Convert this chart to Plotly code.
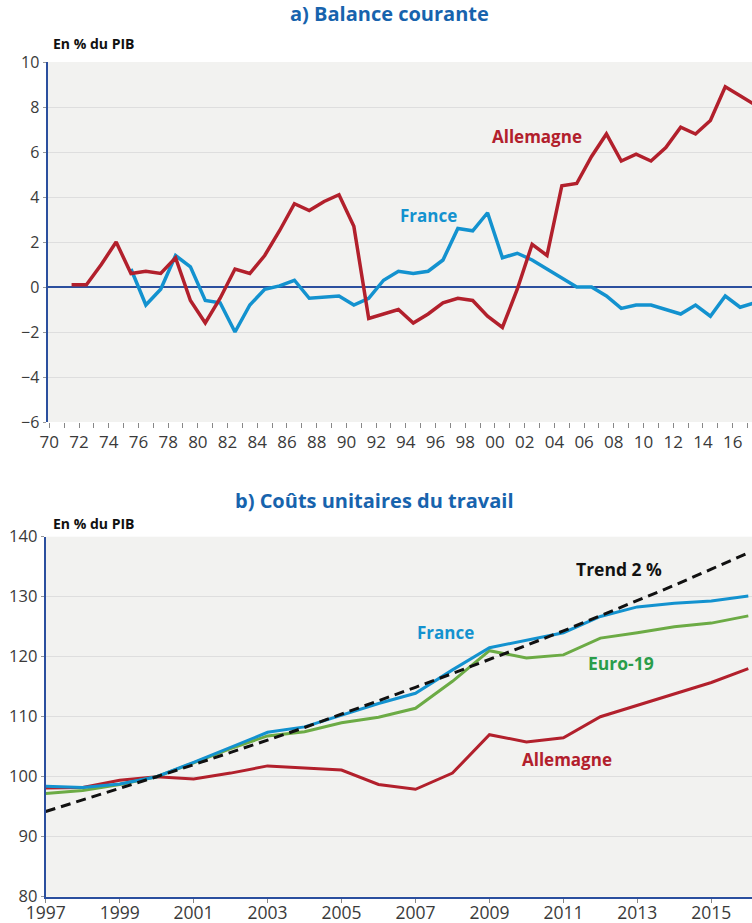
import plotly.graph_objects as go

W, H = 752, 923

# ---------- Data: a) Balance courante (% du PIB) ----------
years_de_a = list(range(1971, 2018))
allemagne_a = [0.1, 0.1, 1.0, 2.0, 0.6, 0.7, 0.6, 1.3, -0.6, -1.6,
               -0.5, 0.8, 0.6, 1.4, 2.5, 3.7, 3.4, 3.8, 4.1, 2.7,
               -1.4, -1.2, -1.0, -1.6, -1.2, -0.7, -0.5, -0.6, -1.3, -1.8,
               -0.1, 1.9, 1.4, 4.5, 4.6, 5.8, 6.8, 5.6, 5.9, 5.6,
               6.2, 7.1, 6.8, 7.4, 8.9, 8.5, 8.1]
years_fr_a = list(range(1975, 2018))
france_a = [0.8, -0.8, -0.1, 1.4, 0.9, -0.6, -0.7, -2.0, -0.8, -0.1,
            0.05, 0.3, -0.5, -0.45, -0.4, -0.8, -0.5, 0.3, 0.7, 0.6,
            0.7, 1.2, 2.6, 2.5, 3.3, 1.3, 1.5, 1.2, 0.8, 0.4,
            0.0, 0.0, -0.4, -0.95, -0.8, -0.8, -1.0, -1.2, -0.8, -1.3,
            -0.4, -0.9, -0.7]
tick_labels_a = ["70", "72", "74", "76", "78", "80", "82", "84", "86", "88",
                 "90", "92", "94", "96", "98", "00", "02", "04", "06", "08",
                 "10", "12", "14", "16"]
yticks_a = [-6, -4, -2, 0, 2, 4, 6, 8, 10]

# ---------- Data: b) Coûts unitaires du travail ----------
years_b = list(range(1997, 2017))
france_b = [98.4, 98.2, 98.8, 100.0, 102.4, 104.9, 107.4, 108.3, 110.3, 112.2,
            113.9, 117.8, 121.5, 122.8, 124.0, 126.7, 128.3, 128.9, 129.3, 130.1]
euro19_b = [97.2, 97.7, 98.7, 100.0, 102.3, 104.7, 106.8, 107.5, 109.0, 109.9,
            111.4, 115.9, 121.0, 119.8, 120.3, 123.1, 124.0, 125.0, 125.6, 126.8]
allemagne_b = [98.1, 98.2, 99.4, 100.0, 99.6, 100.6, 101.8, 101.5, 101.1, 98.7,
               97.9, 100.6, 107.0, 105.8, 106.5, 110.0, 111.9, 113.8, 115.7, 118.0]
trend_b = [94.2, 96.1, 98.0, 100.0, 102.0, 104.0, 106.1, 108.2, 110.4, 112.6,
           114.9, 117.2, 119.5, 121.9, 124.3, 126.8, 129.4, 131.9, 134.6, 137.3]
tick_years_b = [1997, 1999, 2001, 2003, 2005, 2007, 2009, 2011, 2013, 2015]
yticks_b = [80, 90, 100, 110, 120, 130, 140]

# ---------- Styles ----------
RED = "#b2202c"
BLUE = "#1392cf"
GREEN = "#6cab45"
GREEN_TXT = "#2a9d4a"
TITLE = "#1763ad"
AXIS = "#2b4f9e"
GRID = "#dedede"
BG = "#f2f2f0"
FONT = "Open Sans"
TICKC = "#3a3a3a"

def px(x):
    return x / W

def py(y):
    return 1 - y / H

fig = go.Figure()

# top chart (data plotted at mid-year)
fig.add_trace(go.Scatter(x=[y + 0.5 for y in years_fr_a], y=france_a, mode="lines",
                         line=dict(color=BLUE, width=3.5), xaxis="x", yaxis="y",
                         showlegend=False, hoverinfo="skip"))
fig.add_trace(go.Scatter(x=[y + 0.5 for y in years_de_a], y=allemagne_a, mode="lines",
                         line=dict(color=RED, width=3.5), xaxis="x", yaxis="y",
                         showlegend=False, hoverinfo="skip"))

# bottom chart
fig.add_trace(go.Scatter(x=years_b, y=allemagne_b, mode="lines",
                         line=dict(color=RED, width=3), xaxis="x2", yaxis="y2",
                         showlegend=False, hoverinfo="skip"))
fig.add_trace(go.Scatter(x=years_b, y=euro19_b, mode="lines",
                         line=dict(color=GREEN, width=3), xaxis="x2", yaxis="y2",
                         showlegend=False, hoverinfo="skip"))
fig.add_trace(go.Scatter(x=years_b, y=france_b, mode="lines",
                         line=dict(color=BLUE, width=3), xaxis="x2", yaxis="y2",
                         showlegend=False, hoverinfo="skip"))
fig.add_trace(go.Scatter(x=years_b, y=trend_b, mode="lines",
                         line=dict(color="#111111", width=3, dash="10px,6px"),
                         xaxis="x2", yaxis="y2", showlegend=False, hoverinfo="skip"))

# tick text for top chart: label every even year, minor ticks every year
tick_vals_a = list(range(1970, 2018))
label_map = {1970 + 2 * i: lab for i, lab in enumerate(tick_labels_a)}
tick_text_a = [label_map.get(v, "") for v in tick_vals_a]

fig.update_layout(
    width=W, height=H,
    margin=dict(l=0, r=0, t=0, b=0, autoexpand=False),
    paper_bgcolor="white",
    plot_bgcolor=BG,
    xaxis=dict(domain=[px(47.5), 1], range=[1969.88, 2017.3], automargin=False,
               tickvals=tick_vals_a, ticktext=tick_text_a,
               ticks="outside", ticklen=5, tickwidth=1, tickcolor="#888888",
               showgrid=False, zeroline=False, showline=False,
               tickfont=dict(family=FONT, size=17, color=TICKC), anchor="y"),
    yaxis=dict(domain=[py(422), py(62)], range=[-6, 10], automargin=False,
               tickvals=yticks_a, ticks="outside", ticklen=3, tickcolor="#999999",
               showgrid=True, gridcolor=GRID, gridwidth=1,
               zeroline=True, zerolinecolor=AXIS, zerolinewidth=1.6,
               showline=True, linecolor=AXIS, linewidth=2,
               tickfont=dict(family=FONT, size=16, color=TICKC), anchor="x"),
    xaxis2=dict(domain=[px(45.7), 1], range=[1997, 2016.1], automargin=False,
                tickvals=tick_years_b, ticks="outside", ticklen=4, tickcolor="#888888",
                ticklabelstandoff=-5,
                showgrid=False, zeroline=False,
                showline=True, linecolor=AXIS, linewidth=2,
                tickfont=dict(family=FONT, size=17.5, color=TICKC), anchor="y2"),
    yaxis2=dict(domain=[py(896.7), py(536.7)], range=[80, 140], automargin=False,
                tickvals=yticks_b, ticks="outside", ticklen=3, tickcolor="#999999",
                showgrid=True, gridcolor=GRID, gridwidth=1, zeroline=False,
                showline=True, linecolor=AXIS, linewidth=2,
                tickfont=dict(family=FONT, size=16.5, color=TICKC), anchor="x2"),
)

ann = []
# titles
ann.append(dict(text="<b>a) Balance courante</b>", x=px(390), y=py(14), xref="paper", yref="paper",
                showarrow=False, font=dict(family=FONT, size=20, color=TITLE),
                xanchor="center", yanchor="middle"))
ann.append(dict(text="<b>b) Coûts unitaires du travail</b>", x=px(374), y=py(500), xref="paper", yref="paper",
                showarrow=False, font=dict(family=FONT, size=20, color=TITLE),
                xanchor="center", yanchor="middle"))
for yy in (44, 523.5):
    ann.append(dict(text="<b>En % du PIB</b>", x=px(50.5), y=py(yy), xref="paper", yref="paper",
                    showarrow=False, font=dict(family=FONT, size=14, color="#111111"),
                    xanchor="left", yanchor="middle"))

lab = dict(showarrow=False, xanchor="center", yanchor="middle")
ann.append(dict(text="<b>Allemagne</b>", x=2002.83, y=6.67, xref="x", yref="y",
                font=dict(family=FONT, size=17, color=RED), **lab))
ann.append(dict(text="<b>France</b>", x=1995.5, y=3.16, xref="x", yref="y",
                font=dict(family=FONT, size=17, color=BLUE), **lab))
ann.append(dict(text="<b>Trend 2 %</b>", x=2012.5, y=134.6, xref="x2", yref="y2",
                font=dict(family=FONT, size=17.5, color="#111111"), **lab))
ann.append(dict(text="<b>France</b>", x=2007.82, y=124.0, xref="x2", yref="y2",
                font=dict(family=FONT, size=17, color=BLUE), **lab))
ann.append(dict(text="<b>Euro-19</b>", x=2012.55, y=118.9, xref="x2", yref="y2",
                font=dict(family=FONT, size=17.5, color=GREEN_TXT), **lab))
ann.append(dict(text="<b>Allemagne</b>", x=2011.1, y=102.8, xref="x2", yref="y2",
                font=dict(family=FONT, size=17, color=RED), **lab))
fig.update_layout(annotations=ann)

fig.write_html("out.html", config={"displayModeBar": False},
               post_script="document.body.style.margin='0';document.body.style.overflow='hidden';")
